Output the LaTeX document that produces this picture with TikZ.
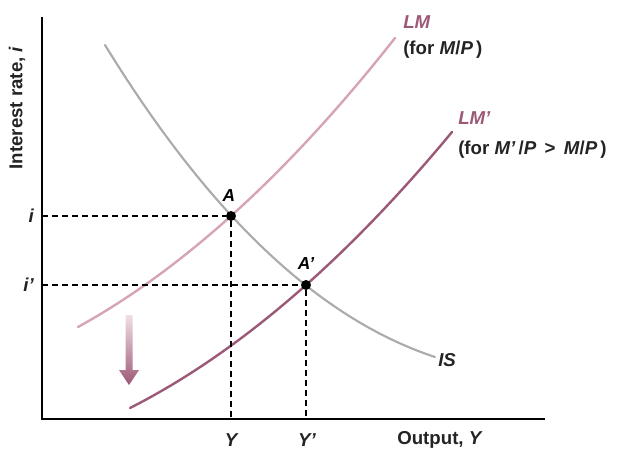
\documentclass[tikz,border=0pt]{standalone}
\usepackage{fontspec}
\setmainfont{Liberation Sans}
\begin{document}
\begin{tikzpicture}[x=0.75pt,y=-0.75pt,font=\fontsize{14}{16}\selectfont\bfseries]
\definecolor{color0}{HTML}{ABABAB}
\definecolor{color1}{HTML}{D6A4B7}
\definecolor{color2}{HTML}{9C5877}
\definecolor{color3}{HTML}{232323}
\tikzset{
  dot/.style={circle,fill=black,inner sep=0pt,minimum size=7.5pt},
  guide/.style={dash pattern=on 4.5pt off 3pt,line width=0.9pt},
  curvelabel/.style={anchor=west,inner sep=0pt},
  ticklabel/.style={color3,inner sep=0pt}
}
\useasboundingbox (0,0) rectangle (619,451);
% axes
\coordinate (top) at (42,17);
\coordinate (o) at (42,419);
\coordinate (right) at (545,419);
\coordinate (iA) at (42,216);
\coordinate (iB) at (42,285);
\coordinate (yA) at (231,419);
\coordinate (yB) at (306,419);
\draw[line width=2.2pt] (top) -- (o) -- (right);
% curves
\draw[color1,line width=1.8pt,line cap=round] (78,327) .. controls (183.7,268.7) and (289.3,172.3) .. (395,38);
\draw[color2,line width=1.8pt,line cap=round] (130,408) .. controls (237.3,353.5) and (344.7,261.5) .. (452,132);
\draw[color0,line width=1.6pt,line cap=round] (105,45) .. controls (215,224) and (325,320.7) .. (435,357);
% equilibria
\node[dot] (A) at (231,216) {};
\node[dot] (B) at (306,285) {};
\draw[guide] (iA) -- (A);
\draw[guide] (A) -- (yA);
\draw[guide] (iB) -- (B);
\draw[guide] (B) -- (yB);
\node[font=\fontsize{13}{15}\selectfont\bfseries\itshape] (Alab) at (229,196) {A};
\node[font=\fontsize{13}{15}\selectfont\bfseries\itshape] (Blab) at (306,264) {A’};
% shift arrow
\shade[top color=color1!35,bottom color=color2] (125.5,315) -- (132.5,315) -- (132.5,370) -- (139,370) -- (129,385) -- (119,370) -- (125.5,370) -- cycle;
% labels
\node[curvelabel,color2,font=\fontsize{14}{16}\selectfont\bfseries\itshape] (lm) at (403,22) {LM};
\node[curvelabel,color3] (lmnote) at (403,50) {(for \textit{M}/\textit{P}\,)};
\node[curvelabel,color3] (lmbnote) at (458,150) {(for \textit{M’}\,/\textit{P}\, >\, \textit{M}/\textit{P}\,)};
\node[curvelabel,color2,font=\fontsize{14}{16}\selectfont\bfseries\itshape] (lmb) at (458,118) {LM’};
\node[curvelabel,color3,font=\fontsize{14}{16}\selectfont\bfseries\itshape] (is) at (438,360) {IS};
\node[ticklabel,anchor=east,font=\fontsize{14}{16}\selectfont\bfseries\itshape] (ilab) at (34,216) {i};
\node[ticklabel,anchor=east,font=\fontsize{14}{16}\selectfont\bfseries\itshape] (iblab) at (34,285) {i’};
\node[ticklabel,font=\fontsize{14}{16}\selectfont\bfseries\itshape] (ylab) at (231,440) {Y};
\node[ticklabel,font=\fontsize{14}{16}\selectfont\bfseries\itshape] (yblab) at (307,440) {Y’};
\node[ticklabel] (xaxis) at (440,440) {Output, \textit{Y}};
\node[ticklabel,rotate=90] (yaxis) at (17,108) {Interest rate, \textit{i}};
\end{tikzpicture}
\end{document}
